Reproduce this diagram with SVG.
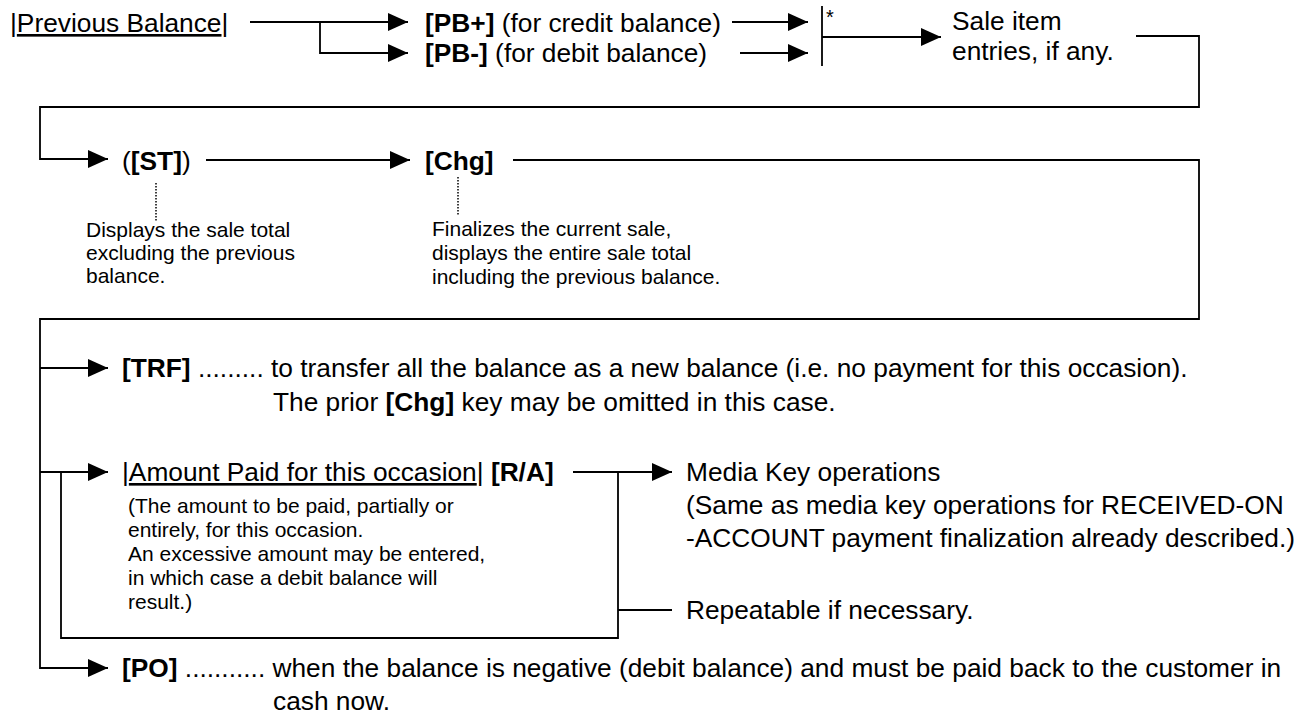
<svg xmlns="http://www.w3.org/2000/svg" width="1316" height="727" viewBox="0 0 1316 727">
<style>
text{font-family:"Liberation Sans",Arial,sans-serif;fill:#000}
.m{font-size:26.3px}
.s{font-size:21px}
.b{font-weight:bold}
.u{text-decoration:underline}
.ln{fill:none;stroke:#000;stroke-width:1.8}
.dot{fill:none;stroke:#000;stroke-width:1.5;stroke-dasharray:1.5 1.5}
</style>
<defs>
<marker id="ah" markerUnits="userSpaceOnUse" markerWidth="20" markerHeight="18" refX="20" refY="9" orient="auto">
<path d="M0,0 L20,9 L0,18 Z" fill="#000"/>
</marker>
</defs>
<rect width="1316" height="727" fill="#fff"/>
<g id="connectors">
<polyline class="ln" points="250,22 408,22" marker-end="url(#ah)"/>
<polyline class="ln" points="320,22 320,53 408,53" marker-end="url(#ah)"/>
<polyline class="ln" points="732,22 808,22" marker-end="url(#ah)"/>
<polyline class="ln" points="740,53 808,53" marker-end="url(#ah)"/>
<line class="ln" x1="822" y1="6" x2="822" y2="66"/>
<polyline class="ln" points="822,37 941,37" marker-end="url(#ah)"/>
<polyline class="ln" points="1136,36 1199,36 1199,107 40,107 40,159 108,159" marker-end="url(#ah)"/>
<polyline class="ln" points="206,160 410,160" marker-end="url(#ah)"/>
<polyline class="ln" points="513,160 1199,160 1199,319 40,319 40,668 108,668" marker-end="url(#ah)"/>
<line class="dot" x1="156" y1="183" x2="156" y2="222"/>
<line class="dot" x1="458" y1="177" x2="458" y2="215"/>
<polyline class="ln" points="40,368 108,368" marker-end="url(#ah)"/>
<polyline class="ln" points="40,472 108,472" marker-end="url(#ah)"/>
<polyline class="ln" points="61,472 61,638 618,638 618,472"/>
<polyline class="ln" points="573,472 672,472" marker-end="url(#ah)"/>
<line class="ln" x1="618" y1="610" x2="672" y2="610"/>
</g>
<g id="node-previous-balance"><text class="m" x="10" y="32">|<tspan class="u">Previous Balance</tspan>|</text></g>
<g id="node-pb-plus"><text class="m" x="425" y="32"><tspan class="b">[PB+]</tspan> (for credit balance)</text></g>
<g id="node-pb-minus"><text class="m" x="425" y="62"><tspan class="b">[PB-]</tspan> (for debit balance)</text></g>
<g id="node-star"><text x="826" y="24" style="font-size:20px">*</text></g>
<g id="node-sale-item"><text class="m" x="952" y="30">Sale item</text><text class="m" x="952" y="60">entries, if any.</text></g>
<g id="node-st"><text class="m" x="122" y="170">(<tspan class="b">[ST]</tspan>)</text></g>
<g id="node-chg"><text class="m b" x="425" y="170">[Chg]</text></g>
<g id="note-st"><text class="s" x="86" y="237">Displays the sale total</text><text class="s" x="86" y="260">excluding the previous</text><text class="s" x="86" y="283">balance.</text></g>
<g id="note-chg"><text class="s" x="432" y="236">Finalizes the current sale,</text><text class="s" x="432" y="260">displays the entire sale total</text><text class="s" x="432" y="284">including the previous balance.</text></g>
<g id="node-trf"><text class="m" x="122" y="377"><tspan class="b">[TRF]</tspan> ......... to transfer all the balance as a new balance (i.e. no payment for this occasion).</text><text class="m" x="273" y="411">The prior <tspan class="b">[Chg]</tspan> key may be omitted in this case.</text></g>
<g id="node-ra"><text class="m" x="122" y="481">|<tspan class="u">Amount Paid for this occasion</tspan>| <tspan class="b">[R/A]</tspan></text>
<text class="s" x="128" y="513">(The amount to be paid, partially or</text>
<text class="s" x="128" y="537">entirely, for this occasion.</text>
<text class="s" x="128" y="561">An excessive amount may be entered,</text>
<text class="s" x="128" y="585">in which case a debit balance will</text>
<text class="s" x="128" y="609">result.)</text></g>
<g id="node-media"><text class="m" x="686" y="481">Media Key operations</text><text class="m" x="686" y="514">(Same as media key operations for RECEIVED-ON</text><text class="m" x="686" y="547">-ACCOUNT payment finalization already described.)</text></g>
<g id="node-repeat"><text class="m" x="686" y="619">Repeatable if necessary.</text></g>
<g id="node-po"><text class="m" x="122" y="677"><tspan class="b">[PO]</tspan> ........... when the balance is negative (debit balance) and must be paid back to the customer in</text><text class="m" x="273" y="710">cash now.</text></g>
</svg>
